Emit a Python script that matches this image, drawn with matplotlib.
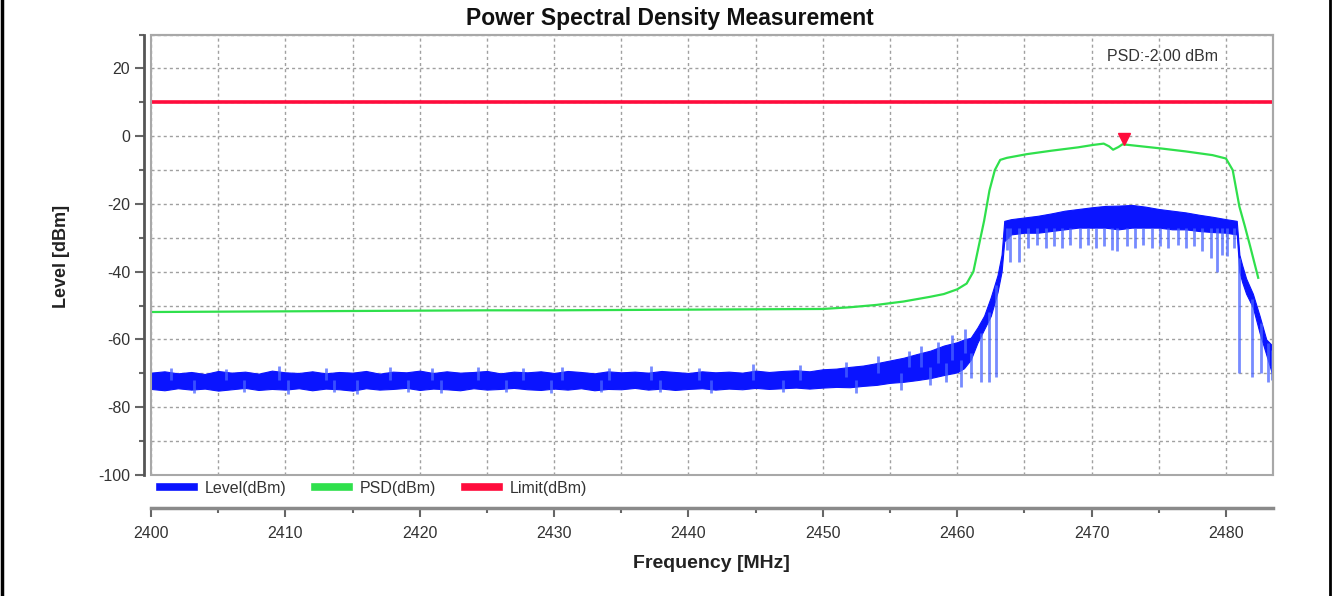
import numpy as np
import matplotlib.pyplot as plt
from matplotlib.lines import Line2D
from matplotlib.patches import Rectangle
from matplotlib.ticker import MultipleLocator

plt.rcParams['font.family'] = ['Liberation Sans', 'DejaVu Sans']
plt.rcParams['axes.unicode_minus'] = False

lvl_freq = [2400, 2401, 2402, 2403, 2404, 2405, 2406, 2407, 2408, 2409,
            2410, 2411, 2412, 2413, 2414, 2415, 2416, 2417, 2418, 2419,
            2420, 2421, 2422, 2423, 2424, 2425, 2426, 2427, 2428, 2429,
            2430, 2431, 2432, 2433, 2434, 2435, 2436, 2437, 2438, 2439,
            2440, 2441, 2442, 2443, 2444, 2445, 2446, 2447, 2448, 2449,
            2450, 2451, 2452, 2453, 2454, 2455, 2456, 2457, 2458, 2459, 2460,
            2460.5, 2461, 2461.5, 2462, 2462.5, 2463, 2463.3, 2463.5,
            2464, 2465, 2466, 2467, 2468, 2469, 2470, 2471, 2472, 2473,
            2474, 2475, 2476, 2477, 2478, 2479, 2480,
            2480.8, 2481.0, 2481.2, 2481.5, 2482, 2482.5, 2483, 2483.5]
lvl_top = [-69.8, -69.4, -70.0, -69.6, -70.2, -69.3, -69.8, -69.5, -70.1, -69.2,
           -69.7, -69.9, -69.4, -70.0, -69.6, -69.8, -69.3, -70.1, -69.5, -69.7,
           -69.2, -69.9, -69.4, -69.8, -69.6, -69.3, -70.0, -69.5, -69.7, -69.4,
           -69.9, -69.3, -69.6, -70.0, -69.4, -69.7, -69.5, -69.8, -69.3, -69.6,
           -69.9, -69.4, -69.7, -69.5, -69.8, -69.2, -69.6, -69.3, -69.1, -69.4,
           -68.8, -68.6, -68.1, -67.7, -67.0, -66.2, -65.4, -64.3, -63.3, -61.8, -60.8,
           -60.0, -59.5, -56.5, -53.0, -47.5, -41.0, -35.0, -25.0,
           -24.5, -24.0, -23.5, -22.8, -22.0, -21.5, -21.0, -20.6, -20.5, -20.3,
           -20.8, -21.5, -22.0, -22.5, -23.2, -23.8, -24.5,
           -25.0, -35.0, -38.0, -42.0, -46.5, -53.0, -60.0, -62.0]
lvl_bot = [-74.6, -75.0, -74.4, -74.8, -74.5, -75.1, -74.7, -74.3, -74.9, -74.6,
           -74.8, -74.4, -75.0, -74.5, -74.7, -75.1, -74.4, -74.8, -74.6, -74.3,
           -74.9, -74.5, -74.7, -75.0, -74.4, -74.8, -74.6, -74.3, -74.7, -74.9,
           -74.5, -74.8, -74.4, -75.0, -74.6, -74.7, -74.3, -74.8, -74.5, -74.9,
           -74.6, -74.4, -74.8, -74.5, -74.7, -74.3, -74.6, -74.4, -74.2, -74.5,
           -74.2, -74.0, -74.1, -73.7, -73.4, -72.8, -72.5, -72.0, -71.4, -70.5, -69.7,
           -68.5, -66.0, -61.0, -57.0, -53.0, -46.0, -40.0, -31.0,
           -29.0, -28.5, -28.5, -28.0, -27.5, -27.0, -27.0, -27.0, -27.5, -27.0,
           -27.0, -27.0, -27.5, -27.5, -28.0, -28.3, -28.5,
           -29.0, -40.0, -43.0, -46.5, -50.5, -58.0, -64.5, -71.0]

# single spikes of the level trace: frequency, low end, high end
spike_freq = [2403.2, 2406.9, 2410.2, 2413.6, 2415.3, 2419.1, 2421.6, 2426.4, 2429.8, 2433.5,
              2437.9, 2441.7, 2447.0, 2452.5, 2455.8,
              2401.5, 2405.6, 2409.5, 2413.0, 2417.8, 2420.9, 2424.3, 2427.7, 2430.6, 2434.1,
              2437.2, 2440.8, 2444.8, 2448.3, 2451.7, 2454.1, 2456.4, 2457.3, 2458.6, 2459.6, 2460.6,
              2458.0, 2459.2, 2460.3, 2461.0, 2461.8, 2462.4, 2462.9,
              2463.7, 2463.9, 2464.6, 2465.3, 2465.9, 2466.6, 2467.2, 2467.8, 2468.4, 2469.1,
              2469.7, 2470.3, 2470.9, 2471.5, 2471.9, 2472.6, 2473.2, 2473.8, 2474.5, 2475.1,
              2475.7, 2476.4, 2477.0, 2477.6, 2478.2, 2478.9, 2479.3, 2479.7, 2480.1, 2480.6,
              2481.0, 2481.9, 2482.6, 2483.1, 2483.4]
spike_lo = [-75.8, -75.5, -76.0, -75.4, -76.2, -75.6, -75.7, -75.5, -75.8, -75.6,
            -75.4, -75.9, -75.6, -75.7, -75.0,
            -72, -72, -72, -72, -72, -72, -72, -72, -72, -72,
            -72, -72, -72, -72, -71, -70, -68, -68, -67, -66, -64,
            -73.5, -72.5, -74.0, -71.5, -72.5, -72.6, -71.0,
            -33.5, -37.0, -37.0, -33.0, -32.0, -33.0, -32.5, -33.0, -32.0, -33.0,
            -32.0, -33.0, -32.5, -33.5, -34.0, -32.5, -33.0, -32.0, -33.0, -32.5,
            -33.0, -32.0, -33.0, -32.5, -34.0, -36.0, -40.0, -35.0, -35.5, -33.0,
            -70.0, -71.0, -70.0, -72.5, -72.0]
spike_hi = [-72, -72, -72, -72, -72, -72, -72, -72, -72, -72,
            -72, -72, -72, -72, -70,
            -68.3, -68.6, -67.8, -68.4, -68.1, -68.5, -68.0, -68.4, -68.2, -68.3,
            -67.8, -68.4, -67.3, -67.4, -66.6, -65.0, -63.4, -61.8, -60.8, -58.8, -57.0,
            -68, -67, -66, -64, -58, -52, -44,
            -27, -27, -27, -27, -27, -27, -27, -27, -27, -27,
            -27, -27, -27, -27, -27, -27, -27, -27, -27, -27,
            -27, -27, -27, -27, -27, -27, -27, -27, -27, -27,
            -36, -48, -55, -61, -63]

# PSD trace
psd_freq = [2400, 2405, 2410, 2415, 2420, 2425, 2430, 2435, 2440, 2445, 2450,
            2452, 2454, 2456, 2458, 2459, 2460, 2460.7, 2461.2, 2461.7, 2462.0,
            2462.4, 2462.8, 2463.2, 2463.7, 2465.2, 2467, 2469, 2470.1, 2470.9,
            2471.3, 2471.6, 2472.0, 2472.3, 2473, 2475.1, 2477, 2479, 2480.0,
            2480.5, 2481.0, 2481.4, 2481.8, 2482.4]
psd_val = [-51.9, -51.8, -51.7, -51.6, -51.5, -51.4, -51.4, -51.3, -51.2, -51.1, -51.0,
           -50.5, -49.8, -48.8, -47.4, -46.6, -45.2, -43.5, -40.0, -30.6, -25.0,
           -16.0, -10.0, -7.0, -6.4, -5.3, -4.3, -3.3, -2.6, -2.2,
           -3.0, -4.0, -3.2, -2.4, -2.7, -3.6, -4.5, -5.6, -6.6,
           -10.0, -20.8, -26.5, -32.5, -41.8]

limit_val = 10
peak_freq = 2472.4
peak_mark = -0.7
psd_text = 'PSD:-2.00 dBm'

blue = '#0a14ff'
green = '#2fe04c'
red = '#ff0c3c'

PX = 72 / 100  # points per pixel at dpi 100

fig = plt.figure(figsize=(13.35, 5.96), dpi=100)
ax = fig.add_axes([151 / 1335, 121 / 596, 1122 / 1335, 440.5 / 596])

ax.fill_between(lvl_freq, lvl_bot, lvl_top, color=blue, lw=0.8, zorder=3)
ax.vlines(spike_freq, spike_lo, spike_hi, color='#4a64ff', lw=2.0, alpha=0.75, zorder=3)
ax.plot(psd_freq, psd_val, color=green, lw=1.6, zorder=4)
ax.axhline(limit_val, color=red, lw=2.6, zorder=4)
ax.plot([peak_freq], [peak_mark], 'v', color=red, ms=9, zorder=5)

ax.text(0.951, 0.949, psd_text, transform=ax.transAxes, ha='right', va='center',
        fontsize=11.5, color='#333333')

ax.set_xlim(2400, 2483.5)
ax.set_ylim(-100, 30)
ax.xaxis.set_major_locator(MultipleLocator(10))
ax.xaxis.set_minor_locator(MultipleLocator(5))
ax.yaxis.set_major_locator(MultipleLocator(20))
ax.yaxis.set_minor_locator(MultipleLocator(10))
ax.grid(True, which='both', color='#a0a0a0', linestyle=(0, (2.2, 2.2)), lw=1.0, zorder=1)
ax.set_axisbelow(True)

for s in ['top', 'right']:
    ax.spines[s].set_color('#a8a8a8')
    ax.spines[s].set_linewidth(1.5)
ax.spines['left'].set_position(('outward', 7 * PX))
ax.spines['left'].set_color('#555555')
ax.spines['left'].set_linewidth(2)
ax.spines['bottom'].set_position(('outward', 33 * PX))
ax.spines['bottom'].set_color('#8a8a8a')
ax.spines['bottom'].set_linewidth(2.5)
ax.add_patch(Rectangle((0, 0), 1, 1, transform=ax.transAxes, fill=False,
                       ec='#a8a8a8', lw=1.5, clip_on=False, zorder=6))

ax.tick_params(axis='both', which='major', length=9 * PX, width=1.5, color='#666666',
               labelsize=11.5, labelcolor='#333333')
ax.tick_params(axis='both', which='minor', length=5 * PX, width=1.5, color='#666666')
ax.tick_params(axis='x', pad=9 * PX)
ax.tick_params(axis='y', pad=5 * PX)

handles = [Line2D([], [], color=blue, lw=5.5),
           Line2D([], [], color=green, lw=5.5),
           Line2D([], [], color=red, lw=5.5)]
ax.legend(handles, ['Level(dBm)', 'PSD(dBm)', 'Limit(dBm)'], ncol=3, frameon=False,
          loc='center left', bbox_to_anchor=(9 / 1122, -13 / 440.5), borderaxespad=0,
          borderpad=0, handlelength=2.1, handletextpad=0.7, columnspacing=1.8,
          fontsize=11.5, labelcolor='#333333')

fig.text(670 / 1335, 1 - 19 / 596, 'Power Spectral Density Measurement', ha='center',
         va='center', fontsize=16.5, fontweight='bold', color='#111111')
fig.text(62 / 1335, 1 - 256 / 596, 'Level [dBm]', rotation=90, ha='center', va='center',
         fontsize=13, fontweight='bold', color='#222222')
fig.text(711 / 1335, 1 - 563 / 596, 'Frequency [MHz]', ha='center', va='center',
         fontsize=14, fontweight='bold', color='#222222')

# frame lines at the left and right edge of the screenshot
fig.add_artist(Line2D([1.5 / 1335, 1.5 / 1335], [0, 1], transform=fig.transFigure,
                      color='black', lw=2.5))
fig.add_artist(Line2D([1330 / 1335, 1330 / 1335], [0, 1], transform=fig.transFigure,
                      color='black', lw=2))

fig.savefig('out.png', dpi=100)
